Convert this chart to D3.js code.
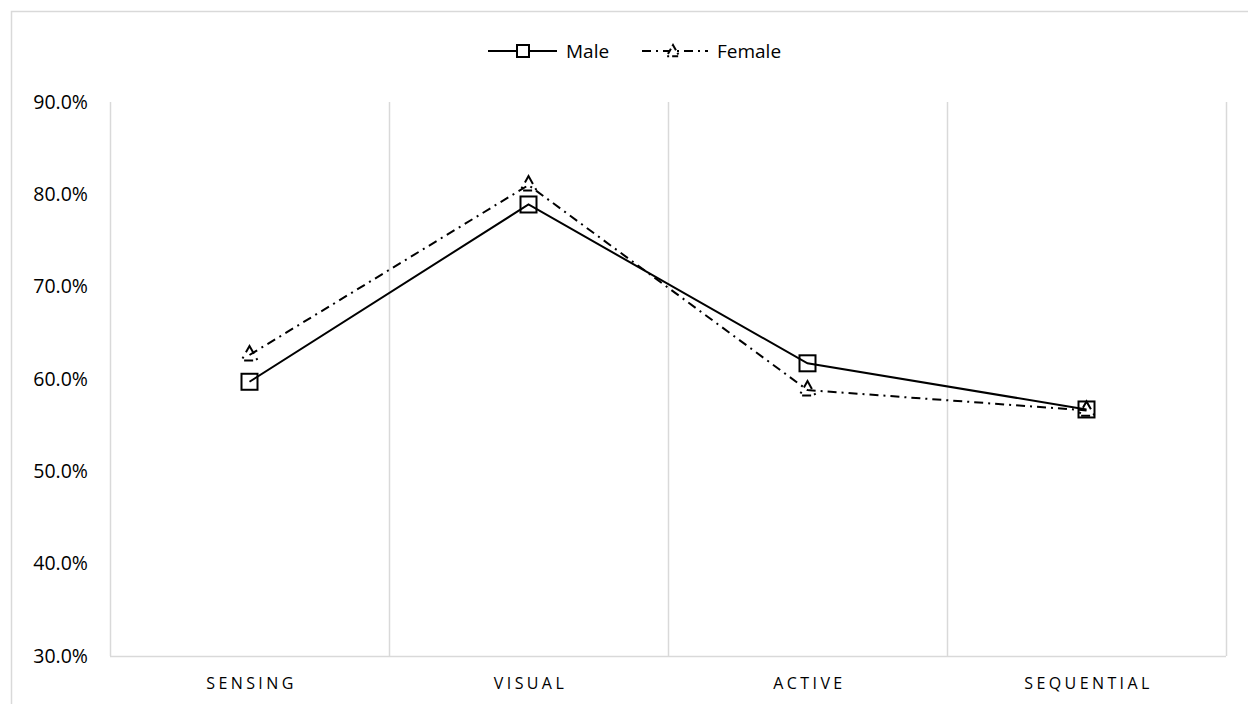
<!DOCTYPE html>
<html>
<head>
<meta charset="utf-8">
<script src="https://cdn.jsdelivr.net/npm/d3@7"></script>
<style>
  html, body { margin: 0; padding: 0; background: #fff; }
  svg { display: block; }
  text { font-family: "Open Sans", "Noto Sans", sans-serif; fill: #000; }
</style>
</head>
<body>
<script>
// Learning-style preference by gender
const categories = ["SENSING", "VISUAL", "ACTIVE", "SEQUENTIAL"];
const maleValues = [0.597, 0.789, 0.617, 0.567];
const femaleValues = [0.626, 0.810, 0.588, 0.566];
const yTicks = [0.3, 0.4, 0.5, 0.6, 0.7, 0.8, 0.9];
const seriesNames = ["Male", "Female"];

const W = 1248, H = 704;
const margin = { left: 110, right: 22, top: 102, bottom: 48 };

const svg = d3.select("body").append("svg")
  .attr("width", W).attr("height", H);

// chart frame
svg.append("rect")
  .attr("x", 11.5).attr("y", 11.5)
  .attr("width", W + 20).attr("height", H + 20)
  .attr("fill", "none").attr("stroke", "#d9d9d9").attr("stroke-width", 1.5);

const x = d3.scaleBand()
  .domain(categories)
  .range([margin.left, W - margin.right]);

const y = d3.scaleLinear()
  .domain([0.3, 0.9])
  .range([H - margin.bottom, margin.top]);

// vertical gridlines at category boundaries
const bounds = categories.map(c => x(c)).concat([x.range()[1]]);
svg.append("g").selectAll("line")
  .data(bounds)
  .join("line")
  .attr("x1", d => Math.round(d) + 0.5).attr("x2", d => Math.round(d) + 0.5)
  .attr("y1", y(0.9)).attr("y2", y(0.3))
  .attr("stroke", "#d9d9d9").attr("stroke-width", 1.5);

// baseline
svg.append("line")
  .attr("x1", x.range()[0]).attr("x2", x.range()[1])
  .attr("y1", y(0.3) + 0.5).attr("y2", y(0.3) + 0.5)
  .attr("stroke", "#d9d9d9").attr("stroke-width", 1.5);

// y tick labels
const fmt = d3.format(".1%");
svg.append("g").selectAll("text")
  .data(yTicks)
  .join("text")
  .attr("x", 88)
  .attr("y", d => y(d))
  .attr("dy", "0.35em")
  .attr("text-anchor", "end")
  .attr("font-size", 19.5)
  .text(d => fmt(d));

// category labels
svg.append("g").selectAll("text")
  .data(categories)
  .join("text")
  .attr("x", d => x(d) + x.bandwidth() / 2 + 2)
  .attr("y", 689)
  .attr("text-anchor", "middle")
  .attr("font-size", 16)
  .attr("letter-spacing", "3.4px")
  .text(d => d);

const cx = d => x(d) + x.bandwidth() / 2;
const line = d3.line().x(d => cx(d.c)).y(d => y(d.v));

const maleData = categories.map((c, i) => ({ c, v: maleValues[i] }));
const femaleData = categories.map((c, i) => ({ c, v: femaleValues[i] }));

const dashFemale = "9,5,2,5";

// female line (dash-dot)
svg.append("path")
  .datum(femaleData)
  .attr("d", line)
  .attr("fill", "none")
  .attr("stroke", "#000")
  .attr("stroke-width", 2)
  .attr("stroke-dasharray", dashFemale);

// male line (solid)
svg.append("path")
  .datum(maleData)
  .attr("d", line)
  .attr("fill", "none")
  .attr("stroke", "#000")
  .attr("stroke-width", 2);

// triangle marker path centred at origin
const tri = s => `M0,${-s}L${s * 0.9},${s * 0.6}L${-s * 0.9},${s * 0.6}Z`;

// female markers
svg.append("g").selectAll("path")
  .data(femaleData)
  .join("path")
  .attr("transform", d => `translate(${cx(d.c)},${y(d.v)})`)
  .attr("d", tri(9))
  .attr("fill", "none")
  .attr("stroke", "#000")
  .attr("stroke-width", 2)
  .attr("stroke-dasharray", dashFemale);

// male markers (open squares)
svg.append("g").selectAll("rect")
  .data(maleData)
  .join("rect")
  .attr("x", d => cx(d.c) - 8)
  .attr("y", d => y(d.v) - 8)
  .attr("width", 16).attr("height", 16)
  .attr("fill", "none")
  .attr("stroke", "#000")
  .attr("stroke-width", 2);

// legend
const lg = svg.append("g");
// Male entry
lg.append("line")
  .attr("x1", 488).attr("x2", 557).attr("y1", 51).attr("y2", 51)
  .attr("stroke", "#000").attr("stroke-width", 2);
lg.append("rect")
  .attr("x", 517).attr("y", 45).attr("width", 12).attr("height", 12)
  .attr("fill", "#fff").attr("stroke", "#000").attr("stroke-width", 2);
lg.append("text")
  .attr("x", 566).attr("y", 51).attr("dy", "0.35em")
  .attr("font-size", 19).text(seriesNames[0]);
// Female entry
lg.append("line")
  .attr("x1", 642).attr("x2", 708).attr("y1", 51).attr("y2", 51)
  .attr("stroke", "#000").attr("stroke-width", 2)
  .attr("stroke-dasharray", dashFemale);
lg.append("path")
  .attr("transform", "translate(673,52)")
  .attr("d", tri(7))
  .attr("fill", "#fff")
  .attr("stroke", "#000").attr("stroke-width", 2)
  .attr("stroke-dasharray", "6,3,2,3");
lg.append("text")
  .attr("x", 717).attr("y", 51).attr("dy", "0.35em")
  .attr("font-size", 19).text(seriesNames[1]);
</script>
</body>
</html>
